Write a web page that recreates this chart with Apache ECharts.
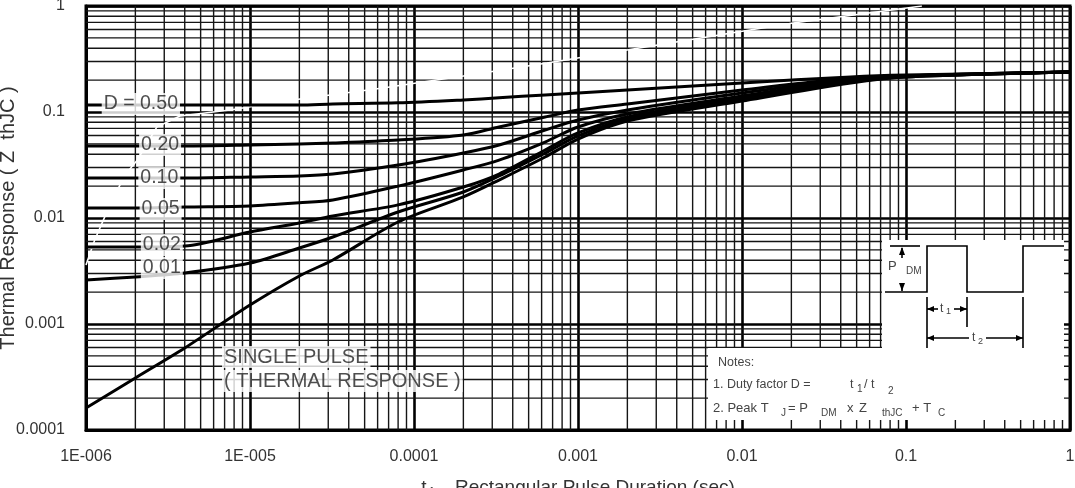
<!DOCTYPE html>
<html><head><meta charset="utf-8">
<script src="https://cdn.jsdelivr.net/npm/echarts@6/dist/echarts.min.js"></script>
<style>html,body{margin:0;padding:0;background:#fff}#c{width:1075px;height:488px}</style>
</head><body><div id="c"></div>
<script>
// ---- data ----
const pulseTimes = [1e-6, 2e-6, 4e-6, 1e-5, 2e-5, 3.2e-5, 8e-5, 2e-4, 3.3e-4, 6.3e-4, 1e-3, 2e-3, 1e-2, 4.6e-2, 1e-1, 1];
const zD50 = [0.1164,0.1164,0.1164,0.1164,0.1164,0.119,0.122,0.130,0.136,0.145,0.151,0.161,0.188,0.214,0.223,0.238];
const zD20 = [0.0478,0.0478,0.0478,0.0488,0.0499,0.051,0.0544,0.0607,0.0722,0.0897,0.1044,0.119,0.161,0.2094,0.2186,0.238];
const zD10 = [0.0238,0.0238,0.0238,0.0244,0.0249,0.026,0.0316,0.041,0.0488,0.0676,0.0841,0.1044,0.1511,0.2049,0.2186,0.238];
const zD05 = [0.0124,0.0124,0.0127,0.013,0.0139,0.0148,0.02,0.0284,0.0352,0.0521,0.0722,0.0958,0.1416,0.2004,0.2186,0.238];
const zD02 = [0.00532,0.00532,0.00544,0.00738,0.00897,0.01045,0.0133,0.0196,0.026,0.0438,0.0634,0.0897,0.1356,0.1961,0.2186,0.238];
const zD01 = [0.0026,0.00278,0.00303,0.00376,0.00521,0.00662,0.0114,0.0176,0.0249,0.041,0.0594,0.0859,0.1298,0.1918,0.2138,0.238];
const zSingle = [0.000161,0.00031,0.000594,0.00151,0.00284,0.00402,0.00917,0.0158,0.0228,0.0376,0.0556,0.0822,0.127,0.1878,0.2138,0.238];
const curveNames = ['D = 0.50','0.20','0.10','0.05','0.02','0.01','SINGLE PULSE'];
const singlePulseText = ['SINGLE PULSE', '( THERMAL RESPONSE )'];
// faint white trace visible across the grid
const traceT = [1e-6, 1.13e-6, 1.4e-6, 1.73e-6, 2.05e-6, 2.7e-6, 3.74e-6, 7.55e-6, 2.02e-5, 6.47e-5, 2e-4, 6.47e-4, 2.05e-2, 0.125];
const traceZ = [0.0036, 0.0062, 0.0133, 0.0255, 0.035, 0.072, 0.0917, 0.1044, 0.1327, 0.1684, 0.2186, 0.29, 0.691, 1.0];
const xTickLabels = ['1E-006','1E-005','0.0001','0.001','0.01','0.1','1'];
const yTickLabels = ['0.0001','0.001','0.01','0.1','1'];
const gridMultipliers = [2,3,4,5,6,7,8,9];
const xDecades = [1e-6,1e-5,1e-4,1e-3,1e-2,1e-1];
const yDecades = [1e-4,1e-3,1e-2,1e-1];

// ---- chart ----
const FONT = 'Liberation Sans, Arial, Helvetica, sans-serif';
const chart = echarts.init(document.getElementById('c'), null, {renderer:'canvas'});
const minorX = xDecades.flatMap(d => gridMultipliers.map(m => [d*m, 1e-4]));
const minorY = yDecades.flatMap(d => gridMultipliers.map(m => [1e-6, d*m]));
const curves = [zD50, zD20, zD10, zD05, zD02, zD01, zSingle];

const series = [];
series.push({
  type:'custom', silent:true, z:2, data:minorX, clip:true,
  renderItem:(params, api) => {
    const cs = params.coordSys; const x = api.coord([api.value(0), 1e-4])[0];
    return {type:'line', shape:{x1:x,y1:cs.y,x2:x,y2:cs.y+cs.height}, style:{stroke:'#151515', lineWidth:1.4}};
  }
});
series.push({
  type:'custom', silent:true, z:2, data:minorY, clip:true,
  renderItem:(params, api) => {
    const cs = params.coordSys; const y = api.coord([1e-6, api.value(1)])[1];
    return {type:'line', shape:{x1:cs.x,y1:y,x2:cs.x+cs.width,y2:y}, style:{stroke:'#151515', lineWidth:1.4}};
  }
});
series.push({
  type:'line', silent:true, z:3, symbol:'none', clip:true,
  data: traceT.map((t,i)=>[t, traceZ[i]]),
  lineStyle:{color:'#fff', width:1.6}
});
curves.forEach((z,i) => series.push({
  name: curveNames[i], type:'line', silent:true, z:5, symbol:'none', showSymbol:false,
  smooth:0.3, clip:true,
  data: pulseTimes.map((t,k)=>[t, z[k]]),
  lineStyle:{color:'#000', width:3, join:'round'}
}));
const lblStyle = {show:true, color:'#222', fontSize:19.5, fontFamily:FONT, backgroundColor:'#fff', padding:[1,2]};
series.push({
  type:'scatter', silent:true, z:8, symbolSize:0,
  label: Object.assign({position:'inside'}, lblStyle),
  data:[
    {value:[2.16e-6,0.119], label:{formatter:curveNames[0]}},
    {value:[2.83e-6,0.0488], label:{formatter:curveNames[1]}},
    {value:[2.8e-6,0.0238], label:{formatter:curveNames[2]}},
    {value:[2.85e-6,0.01216], label:{formatter:curveNames[3]}},
    {value:[2.9e-6,0.00556], label:{formatter:curveNames[4]}},
    {value:[2.9e-6,0.00338], label:{formatter:curveNames[5]}},
    {value:[6.75e-6,0.000488], label:{formatter:singlePulseText[0], position:'right', distance:0, fontSize:20}},
    {value:[6.75e-6,0.00029], label:{formatter:singlePulseText[1], position:'right', distance:0, fontSize:20}}
  ]
});

const S = {stroke:'#000', lineWidth:1.6};
const T = (x,y,text,size,extra) => ({type:'text', z:20, x:x, y:y, style:Object.assign({text:text, fill:'#444', font:(size||12.5)+'px '+FONT, verticalAlign:'middle', align:'left'}, extra||{})});
const graphic = [
  {type:'rect', z:15, shape:{x:882,y:240,width:182,height:110}, style:{fill:'#fff'}},
  {type:'rect', z:15, shape:{x:708,y:348,width:356,height:72}, style:{fill:'#fff'}},
  {type:'polyline', z:20, shape:{points:[[885,292],[927,292],[927,246],[967,246],[967,292],[1023,292],[1023,246],[1064,246]]}, style:Object.assign({fill:null}, S)},
  {type:'line', z:20, shape:{x1:890,y1:246,x2:920,y2:246}, style:S},
  {type:'line', z:20, shape:{x1:902,y1:248,x2:902,y2:258}, style:S},
  {type:'line', z:20, shape:{x1:902,y1:283,x2:902,y2:291}, style:S},
  {type:'polygon', z:20, shape:{points:[[902,247],[899,255],[905,255]]}, style:{fill:'#000'}},
  {type:'polygon', z:20, shape:{points:[[902,291],[899,283],[905,283]]}, style:{fill:'#000'}},
  {type:'line', z:20, shape:{x1:927,y1:297,x2:927,y2:348}, style:S},
  {type:'line', z:20, shape:{x1:967,y1:297,x2:967,y2:327}, style:S},
  {type:'line', z:20, shape:{x1:1023,y1:297,x2:1023,y2:348}, style:S},
  {type:'line', z:20, shape:{x1:927,y1:309,x2:938,y2:309}, style:S},
  {type:'line', z:20, shape:{x1:954,y1:309,x2:967,y2:309}, style:S},
  {type:'polygon', z:20, shape:{points:[[927,309],[934,306],[934,312]]}, style:{fill:'#000'}},
  {type:'polygon', z:20, shape:{points:[[967,309],[960,306],[960,312]]}, style:{fill:'#000'}},
  {type:'line', z:20, shape:{x1:927,y1:338,x2:969,y2:338}, style:S},
  {type:'line', z:20, shape:{x1:986,y1:338,x2:1023,y2:338}, style:S},
  {type:'polygon', z:20, shape:{points:[[927,338],[934,335],[934,341]]}, style:{fill:'#000'}},
  {type:'polygon', z:20, shape:{points:[[1023,338],[1016,335],[1016,341]]}, style:{fill:'#000'}},
  T(888,266,'P',13), T(906,271,'DM',10),
  T(940,309,'t',12), T(946,312,'1',9),
  T(972,338,'t',12), T(978,342,'2',9),
  T(718,363,'Notes:',12.5),
  T(713,385,'1. Duty factor D =',12.5),
  T(850,385,'t',12.5), T(857,389,'1',10), T(864,385,'/ t',12.5), T(888,391,'2',10),
  T(713,408,'2. Peak T',13), T(781,413,'J',10), T(788,408,'= P',13), T(821,413,'DM',10),
  T(847,408,'x',13), T(859,408,'Z',13), T(882,413,'thJC',10), T(912,408,'+ T',13), T(938,413,'C',10)
];

const option = {
  animation:false,
  backgroundColor:'#fff',
  textStyle:{fontFamily:FONT},
  grid:{left:86, right:5, top:6, bottom:58, show:true, borderColor:'#000', borderWidth:3, backgroundColor:'#fff', containLabel:false, outerBoundsMode:'none'},
  xAxis:{
    type:'log', logBase:10, min:1e-6, max:1, splitNumber:6,
    axisLine:{show:true, lineStyle:{color:'#000', width:3}}, axisTick:{show:false},
    axisLabel:{margin:19, color:'#333', fontSize:16, fontFamily:FONT,
      formatter:v => xTickLabels[Math.round(Math.log10(v))+6]},
    splitLine:{show:true, lineStyle:{color:'#000', width:2.6}},
    name:'{a|t}{s|1}{a| , Rectangular Pulse Duration (sec)}', nameLocation:'middle', nameGap:47, nameMoveOverlap:false,
    nameTextStyle:{rich:{a:{fontSize:19, color:'#333', fontFamily:FONT}, s:{fontSize:12, color:'#333', fontFamily:FONT, padding:[10,4,0,2]}}}
  },
  yAxis:{
    type:'log', logBase:10, min:1e-4, max:1, splitNumber:4,
    axisLine:{show:true, lineStyle:{color:'#000', width:3}}, axisTick:{show:false},
    axisLabel:{margin:21, color:'#333', fontSize:16, fontFamily:FONT,
      formatter:v => yTickLabels[Math.round(Math.log10(v))+4]},
    splitLine:{show:true, lineStyle:{color:'#000', width:2.6}},
    name:'Thermal Response ( Z  thJC )', nameLocation:'middle', nameGap:68, nameMoveOverlap:false,
    nameTextStyle:{fontSize:20, color:'#333', fontFamily:FONT}
  },
  series:series,
  graphic:graphic
};
chart.setOption(option);
</script>
</body></html>
